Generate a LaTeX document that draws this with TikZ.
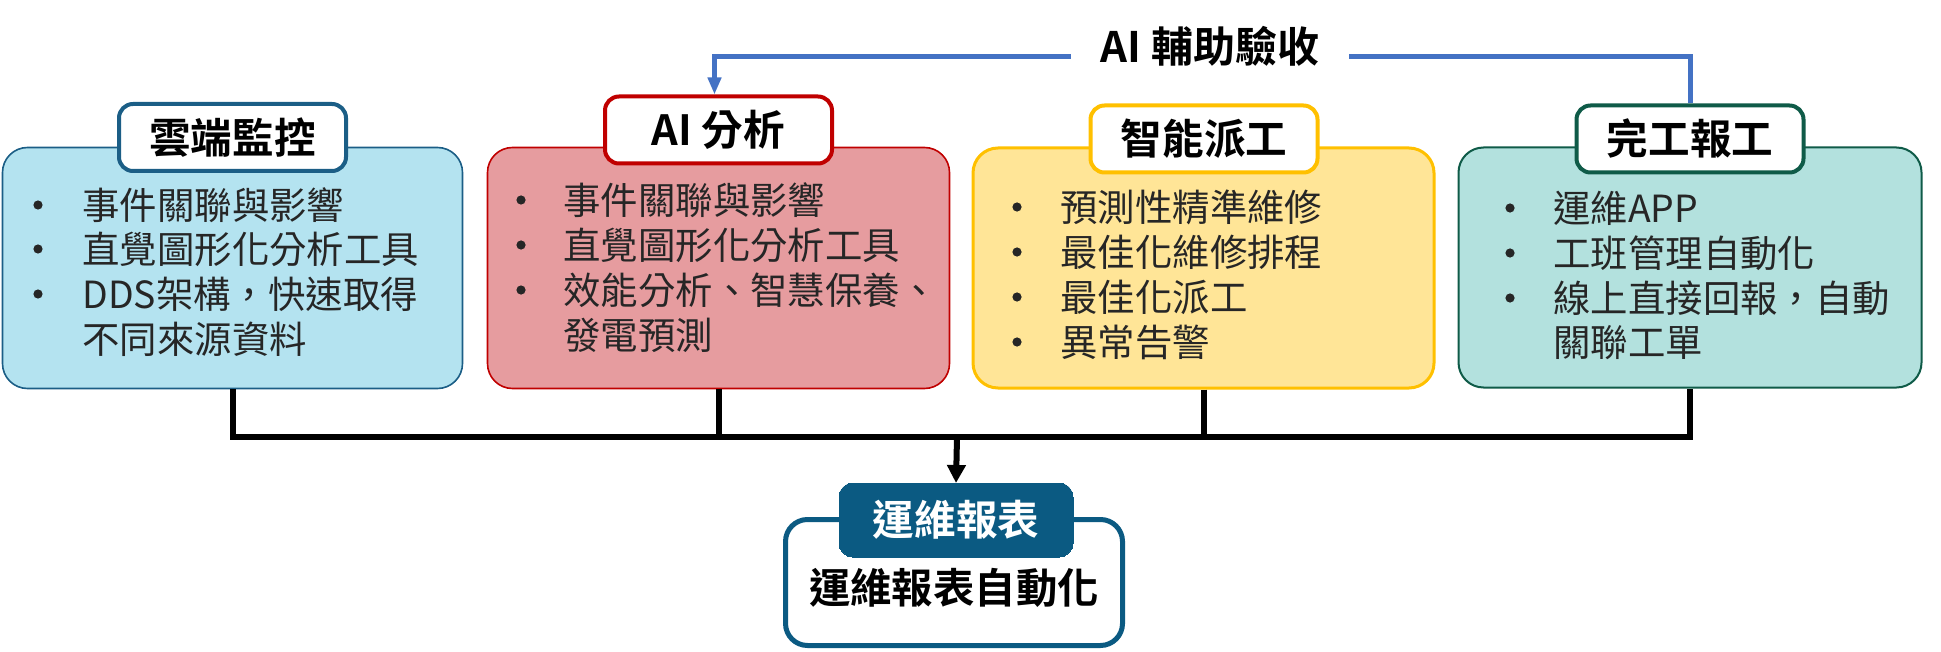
\documentclass[tikz,border=0pt]{standalone}
\usepackage{fontspec}
\setmainfont{Noto Sans CJK TC}[BoldFont={Noto Sans CJK TC Bold}]
\usetikzlibrary{arrows.meta}
\definecolor{bfill}{HTML}{B4E3F0}
\definecolor{bline}{HTML}{1B5E86}
\definecolor{rfill}{HTML}{E69C9F}
\definecolor{rline}{HTML}{C00000}
\definecolor{yfill}{HTML}{FFE597}
\definecolor{yline}{HTML}{FFC000}
\definecolor{tfill}{HTML}{B3E1DE}
\definecolor{tline}{HTML}{0F5B48}
\definecolor{navy}{HTML}{0B5A82}
\definecolor{txt}{HTML}{262626}
\definecolor{arrblue}{HTML}{4472C4}
\tikzset{
  mainbox/.style={draw, rectangle, rounded corners=12.5pt, inner sep=0pt},
  titlebox/.style={draw, fill=white, rectangle, rounded corners=7pt, line width=2pt,
    minimum width=113.5pt, minimum height=33.5pt, inner sep=0pt,
    font=\bfseries\fontsize{20.8pt}{24pt}\selectfont, text=black},
  itemtxt/.style={anchor=west, inner sep=0pt, text=txt, font=\fontsize{18.7pt}{22pt}\selectfont},
  bul/.style={circle, fill=txt, inner sep=0pt, minimum size=4.6pt},
  blkline/.style={line width=3pt, black, line join=miter},
  blueline/.style={line width=2.5pt, arrblue, line join=miter},
}
\begin{document}
\begin{tikzpicture}[x=0.5pt,y=-0.5pt]
\useasboundingbox (0,0) rectangle (1941,652);
% main boxes
\node[mainbox, fill=bfill, draw=bline, line width=0.8pt, minimum width=230pt, minimum height=120.5pt] (blue) at (232.5,268) {};
\node[mainbox, fill=rfill, draw=rline, line width=0.8pt, minimum width=231pt, minimum height=120.5pt] (red) at (718.5,268) {};
\node[mainbox, fill=yfill, draw=yline, line width=1.5pt, minimum width=230.5pt, minimum height=120pt] (yellow) at (1203.5,268) {};
\node[mainbox, fill=tfill, draw=tline, line width=1pt, minimum width=231.5pt, minimum height=120pt] (teal) at (1690,267.5) {};
% titles
\node[titlebox, draw=bline] (bluet) at (232.5,137.5) {雲端監控};
\node[titlebox, draw=rline] (redt) at (718.5,130) {AI 分析};
\node[titlebox, draw=yline] (yellowt) at (1204,139) {智能派工};
\node[titlebox, draw=tline] (tealt) at (1690,139) {完工報工};
% blue items
\node[bul] (b1) at (38,205) {}; \node[itemtxt] (bt1) at (82,205) {事件關聯與影響};
\node[bul] (b2) at (38,249) {}; \node[itemtxt] (bt2) at (82,249) {直覺圖形化分析工具};
\node[bul] (b3) at (38,294) {}; \node[itemtxt] (bt3) at (82,294) {DDS架構，快速取得};
\node[itemtxt] (bt4) at (82,339) {不同來源資料};
% red items
\node[bul] (r1) at (521,200) {}; \node[itemtxt] (rt1) at (563,200) {事件關聯與影響};
\node[bul] (r2) at (521,245) {}; \node[itemtxt] (rt2) at (563,245) {直覺圖形化分析工具};
\node[bul] (r3) at (521,290) {}; \node[itemtxt] (rt3) at (563,290) {效能分析、智慧保養、};
\node[itemtxt] (rt4) at (563,335) {發電預測};
% yellow items
\node[bul] (y1) at (1017,207) {}; \node[itemtxt] (yt1) at (1060,207) {預測性精準維修};
\node[bul] (y2) at (1017,252) {}; \node[itemtxt] (yt2) at (1060,252) {最佳化維修排程};
\node[bul] (y3) at (1017,297) {}; \node[itemtxt] (yt3) at (1060,297) {最佳化派工};
\node[bul] (y4) at (1017,342) {}; \node[itemtxt] (yt4) at (1060,342) {異常告警};
% teal items
\node[bul] (t1) at (1510,208) {}; \node[itemtxt] (tt1) at (1553,208) {運維APP};
\node[bul] (t2) at (1510,253) {}; \node[itemtxt] (tt2) at (1553,253) {工班管理自動化};
\node[bul] (t3) at (1510,298) {}; \node[itemtxt] (tt3) at (1553,298) {線上直接回報，自動};
\node[itemtxt] (tt4) at (1553,343) {關聯工單};
% bottom box
\node[mainbox, fill=white, draw=navy, line width=2.5pt, rounded corners=11pt, minimum width=168.5pt, minimum height=63pt] (rep) at (954,582.5) {};
\node[titlebox, draw=navy, fill=navy, text=white, minimum width=117pt, minimum height=37pt, line width=0pt] (rept) at (956,520) {運維報表};
\node[inner sep=0pt, font=\bfseries\fontsize{20.7pt}{24pt}\selectfont, text=black] (reptxt) at (954,587.5) {運維報表自動化};
% black bus connectors
\coordinate (bus) at (957,437);
\draw[blkline] (blue.south) |- (bus) -| (teal.south);
\draw[blkline] (red.south) -- (red.south |- bus);
\draw[blkline] (yellow.south) -- (yellow.south |- bus);
\draw[blkline, -{Triangle[width=9pt,length=9pt]}] (bus) -- (rept.north);
% blue AI assist connector
\draw[blueline, -{Triangle[width=6.5pt,length=8.5pt]}] (tealt.north) |- (1400,57) -| ([xshift=-2pt]redt.north);
\node[fill=white, inner sep=0pt, minimum width=139pt, minimum height=22pt, font=\bfseries\fontsize{21pt}{24pt}\selectfont, text=black] (ailabel) at (1210,46) {AI 輔助驗收};
\end{tikzpicture}
\end{document}
